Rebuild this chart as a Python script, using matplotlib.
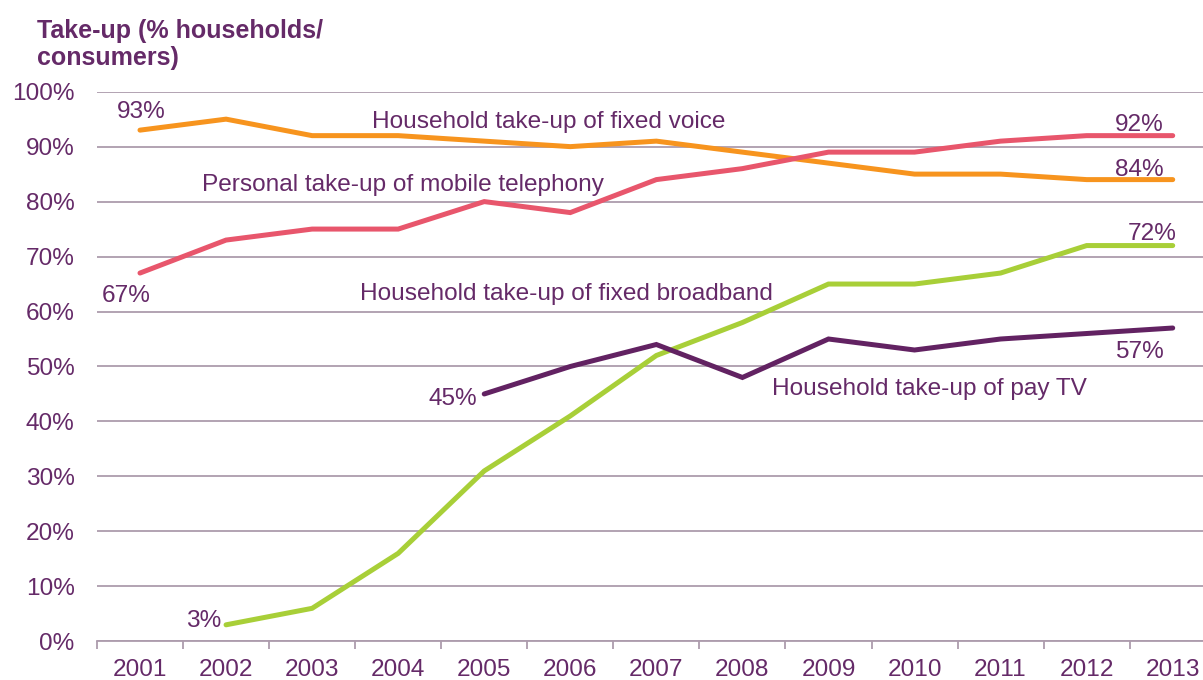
import matplotlib.pyplot as plt
import matplotlib.ticker as mticker

plt.rcParams['font.family'] = ['Liberation Sans', 'DejaVu Sans']

years = list(range(2001, 2014))
fixed_voice = [93, 95, 92, 92, 91, 90, 91, 89, 87, 85, 85, 84, 84]
mobile = [67, 73, 75, 75, 80, 78, 84, 86, 89, 89, 91, 92, 92]
broadband_years = years[1:]
broadband = [3, 6, 16, 31, 41, 52, 58, 65, 65, 67, 72, 72]
paytv_years = years[4:]
paytv = [45, 50, 54, 48, 55, 53, 55, 56, 57]

orange = '#F7941E'
red = '#E8566C'
green = '#A8CF38'
purple = '#622262'
text_col = '#652A68'
grid_col = '#AD9CAD'

fig = plt.figure(figsize=(12.03, 6.8), dpi=100)
ax = fig.add_axes([0.0806, 0.0569, 0.9300, 0.8083])

lw = 3.6
ax.plot(years, fixed_voice, color=orange, lw=lw, solid_capstyle='round', solid_joinstyle='miter', zorder=3)
ax.plot(years, mobile, color=red, lw=lw, solid_capstyle='round', solid_joinstyle='miter', zorder=3)
ax.plot(broadband_years, broadband, color=green, lw=lw, solid_capstyle='round', solid_joinstyle='miter', zorder=3)
ax.plot(paytv_years, paytv, color=purple, lw=lw, solid_capstyle='round', solid_joinstyle='miter', zorder=4)

ax.set_xlim(2000.5, 2013.5)
ax.set_ylim(0, 100)
ax.set_yticks(range(0, 101, 10))
ax.yaxis.set_major_formatter(mticker.FuncFormatter(lambda v, p: f'{int(v)}%'))
ax.set_xticks(years)
ax.set_xticks([y - 0.5 for y in years], minor=True)
ax.grid(axis='y', color=grid_col, lw=1.3)
ax.set_axisbelow(True)

for side in ['top', 'right', 'left']:
    ax.spines[side].set_visible(False)
ax.spines['bottom'].set_color(grid_col)
ax.spines['bottom'].set_linewidth(1.3)

fs = 17.6
ax.tick_params(axis='y', length=0, pad=16, labelsize=fs, labelcolor=text_col)
ax.tick_params(axis='x', which='major', length=0, pad=13, labelsize=fs, labelcolor=text_col)
ax.tick_params(axis='x', which='minor', length=6, width=1.3, color=grid_col)

labels = [
    (2001.01, 96.7, '93%'),
    (2005.75, 95.0, 'Household take-up of fixed voice'),
    (2004.06, 83.4, 'Personal take-up of mobile telephony'),
    (2000.84, 63.2, '67%'),
    (2005.95, 63.7, 'Household take-up of fixed broadband'),
    (2004.63, 44.5, '45%'),
    (2010.17, 46.3, 'Household take-up of pay TV'),
    (2012.61, 53.0, '57%'),
    (2001.74, 4.2, '3%'),
    (2012.61, 94.3, '92%'),
    (2012.61, 86.2, '84%'),
    (2012.76, 74.5, '72%'),
]
for x, y, s in labels:
    ax.text(x, y, s, ha='center', va='center_baseline', fontsize=fs, color=text_col, zorder=5)

# two-line heading above the value axis
fig.text(0.0308, 1 - 37.7 / 680, 'Take-up (% households/', ha='left', va='baseline',
         fontsize=18, fontweight='bold', color=text_col)
fig.text(0.0308, 1 - 65.0 / 680, 'consumers)', ha='left', va='baseline',
         fontsize=18, fontweight='bold', color=text_col)

fig.savefig('out.png', dpi=100)
